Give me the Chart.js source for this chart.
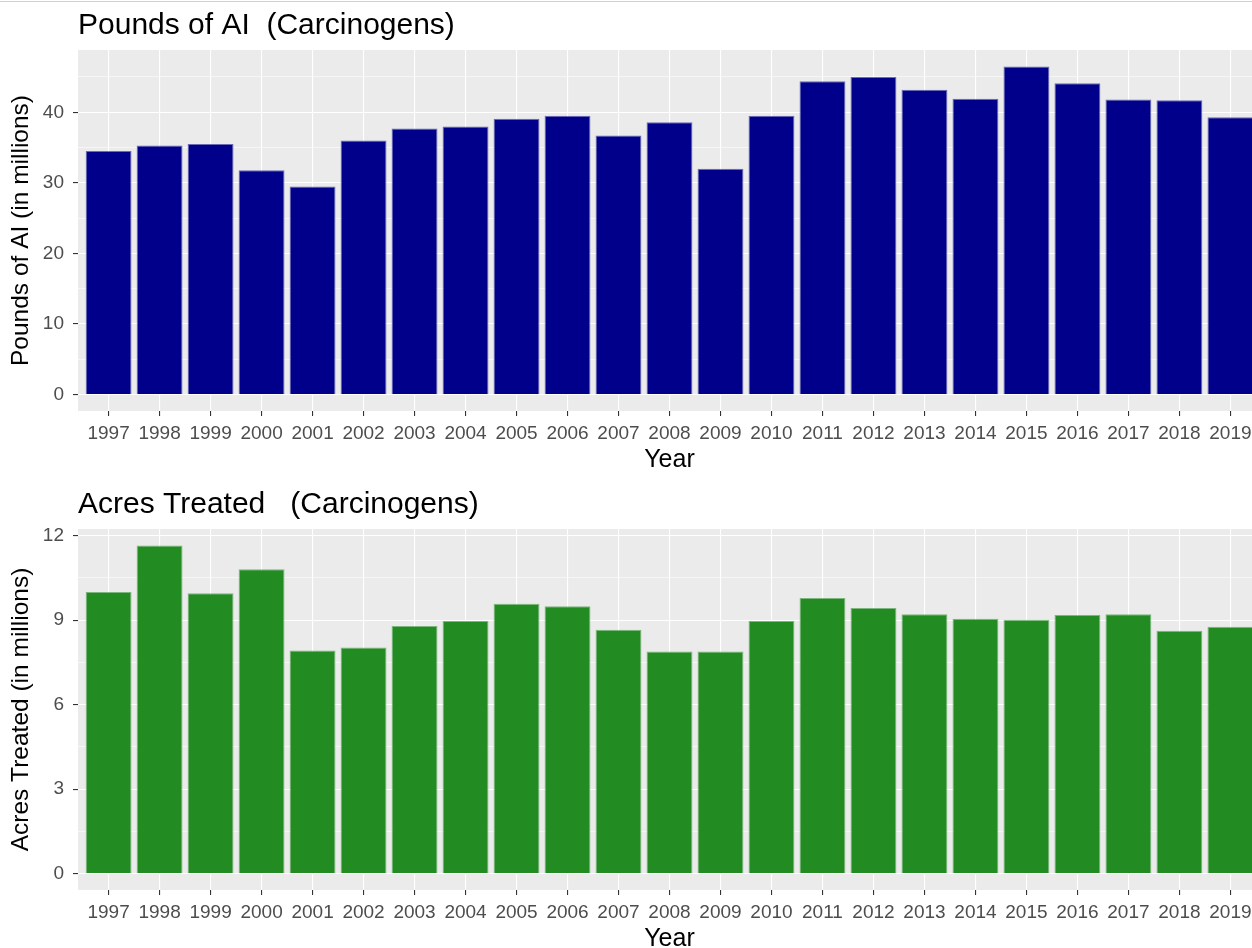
<!DOCTYPE html>
<html><head><meta charset="utf-8">
<script src="https://cdn.jsdelivr.net/npm/chart.js@4.4.0/dist/chart.umd.min.js"></script>
<style>
html,body{margin:0;padding:0;background:#fff;overflow:hidden;width:1252px;height:948px;}
#wrap{position:relative;width:1252px;height:948px;overflow:hidden;}
canvas{position:absolute;left:0;}
#c1{top:0}
#c2{top:479px}
#topline{position:absolute;left:0;top:1px;width:1252px;height:1px;background:#d0d0d0;}
</style></head><body>
<div id="wrap">
<canvas id="c1" width="1261" height="473"></canvas>
<canvas id="c2" width="1261" height="473"></canvas>
<div id="topline"></div>
</div>
<script>
const years = [1997,1998,1999,2000,2001,2002,2003,2004,2005,2006,2007,2008,2009,2010,2011,2012,2013,2014,2015,2016,2017,2018,2019];
const poundsAI = [34.5,35.3,35.5,31.8,29.5,36.0,37.7,38.0,39.1,39.5,36.7,38.6,32.0,39.5,44.4,45.0,43.2,41.9,46.5,44.1,41.8,41.7,39.3];
const acresTreated = [10.0,11.65,9.95,10.8,7.92,8.03,8.79,8.97,9.58,9.49,8.66,7.88,7.88,8.97,9.78,9.43,9.21,9.05,9.01,9.18,9.21,8.62,8.76];
const poundsGrid = [0,5,10,15,20,25,30,35,40,45];
const poundsLabels = [0,10,20,30,40];
const acresGrid = [0,1.5,3,4.5,6,7.5,9,10.5,12];
const acresLabels = [0,3,6,9,12];

const FONT = "'Liberation Sans', Arial, sans-serif";

const panelBg = {
  id: 'panelBg',
  beforeDraw(chart) {
    const {ctx, chartArea: a} = chart;
    ctx.save();
    ctx.fillStyle = '#EBEBEB';
    ctx.fillRect(a.left, a.top, a.right - a.left, a.bottom - a.top);
    ctx.restore();
  }
};

function makeChart(id, title, yTitle, values, color, edge, gridVals, labelVals) {
  const vmax = Math.max(...values);
  const pad = vmax * 0.05;
  return new Chart(document.getElementById(id), {
    type: 'bar',
    data: {
      datasets: [{
        data: years.map((y, i) => ({x: y, y: values[i]})),
        backgroundColor: color,
        borderColor: edge,
        borderWidth: 1,
        barPercentage: 0.9,
        categoryPercentage: 1.0
      }]
    },
    options: {
      responsive: false,
      animation: false,
      devicePixelRatio: 1,
      layout: {padding: 0},
      plugins: {
        legend: {display: false},
        tooltip: {enabled: false},
        title: {
          display: true, text: title, align: 'start', fullSize: false,
          color: '#000000',
          font: {family: FONT, size: 30, weight: 'normal', lineHeight: 1.2},
          padding: {top: 8, bottom: 6}
        }
      },
      scales: {
        x: {
          type: 'linear',
          min: years[0] - 0.6,
          max: years[years.length - 1] + 0.6,
          offset: false,
          afterBuildTicks: ax => { ax.ticks = years.map(v => ({value: v})); },
          afterFit: ax => { ax.height = 62; },
          ticks: {
            autoSkip: false, maxRotation: 0, minRotation: 0,
            color: '#4D4D4D', padding: 6,
            font: {family: FONT, size: 19},
            callback: v => String(v)
          },
          grid: {offset: false, color: '#FFFFFF', lineWidth: 1.1, tickLength: 5, tickColor: '#333333', tickWidth: 1.1},
          border: {display: false},
          title: {
            display: true, text: 'Year', color: '#000000',
            font: {family: FONT, size: 25, lineHeight: 1},
            padding: {top: 0, bottom: 0}
          }
        },
        y: {
          min: -pad,
          max: vmax + pad,
          afterBuildTicks: ax => { ax.ticks = gridVals.map(v => ({value: v})); },
          afterFit: ax => { ax.width = 78; },
          ticks: {
            color: '#4D4D4D', padding: 9,
            font: {family: FONT, size: 19},
            callback: v => labelVals.includes(v) ? String(v) : ''
          },
          grid: {
            color: '#FFFFFF',
            lineWidth: c => (c.tick && labelVals.includes(c.tick.value)) ? 1.1 : 0.55,
            tickLength: 5,
            tickColor: c => (c.tick && labelVals.includes(c.tick.value)) ? '#333333' : 'rgba(0,0,0,0)',
            tickWidth: 1.1
          },
          border: {display: false},
          title: {
            display: true, text: yTitle, color: '#000000',
            font: {family: FONT, size: 24.5, lineHeight: 1.2},
            padding: {top: 7, bottom: 0}
          }
        }
      }
    },
    plugins: [panelBg]
  });
}

makeChart('c1', 'Pounds of AI  (Carcinogens)', 'Pounds of AI (in millions)', poundsAI, '#00008B', 'rgba(0,0,139,0.55)', poundsGrid, poundsLabels);
makeChart('c2', 'Acres Treated   (Carcinogens)', 'Acres Treated (in millions)', acresTreated, '#228B22', 'rgba(34,139,34,0.55)', acresGrid, acresLabels);
</script>
</body></html>
